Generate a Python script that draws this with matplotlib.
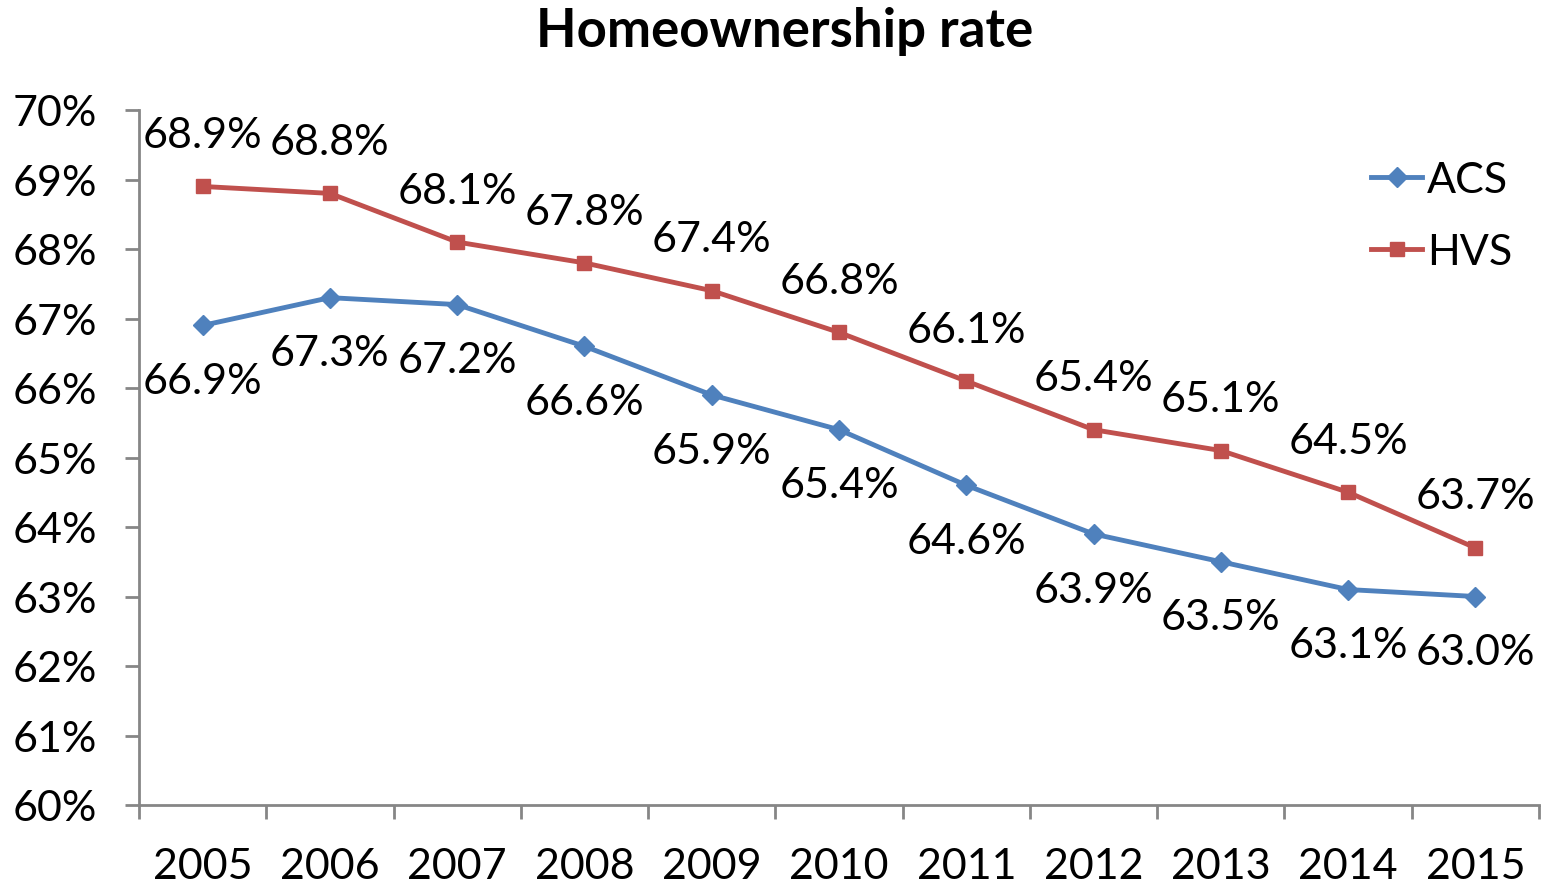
import numpy as np
import matplotlib
matplotlib.use("Agg")
import matplotlib.pyplot as plt

# data
years = ["2005", "2006", "2007", "2008", "2009", "2010",
         "2011", "2012", "2013", "2014", "2015"]
acs = [66.9, 67.3, 67.2, 66.6, 65.9, 65.4, 64.6, 63.9, 63.5, 63.1, 63.0]
hvs = [68.9, 68.8, 68.1, 67.8, 67.4, 66.8, 66.1, 65.4, 65.1, 64.5, 63.7]

plt.rcParams['font.family'] = ['Lato', 'DejaVu Sans']

blue = '#4F81BD'
red = '#C0504D'
gray = '#868686'
fs = 31

fig = plt.figure(figsize=(15.46, 8.87), dpi=100)
ax = fig.add_axes([139/1546, 81/887, 1400/1546, 695/887])

x = np.arange(len(years))
ax.plot(x, acs, color=blue, lw=3.5, marker='D', ms=10, label='ACS')
ax.plot(x, hvs, color=red, lw=3.5, marker='s', ms=10, label='HVS')

# data labels: ACS below, HVS above
for i in range(len(years)):
    ax.annotate(f"{acs[i]:.1f}%", (x[i], acs[i]), xytext=(0, -40),
                textcoords='offset points', ha='center', va='center', fontsize=fs)
    ax.annotate(f"{hvs[i]:.1f}%", (x[i], hvs[i]), xytext=(0, 37),
                textcoords='offset points', ha='center', va='center', fontsize=fs)

ax.set_xlim(-0.5, len(years) - 0.5)
ax.set_ylim(60, 70)
ax.set_yticks(np.arange(60, 71, 1))
ax.set_yticklabels([f"{v}%" for v in range(60, 71)], fontsize=fs)
ax.set_xticks(x)
ax.set_xticklabels(years, fontsize=fs)
ax.set_xticks(np.arange(-0.5, len(years)), minor=True)
ax.tick_params(axis='x', which='major', length=0, pad=30)
ax.tick_params(axis='x', which='minor', length=10, color=gray, width=2)
ax.tick_params(axis='y', length=10, color=gray, width=2, pad=20)

for s in ['top', 'right']:
    ax.spines[s].set_visible(False)
for s in ['left', 'bottom']:
    ax.spines[s].set_color(gray)
    ax.spines[s].set_linewidth(2)

fig.text(785/1546, 1 - 32/887, "Homeownership rate", ha='center', va='center',
         fontsize=38, fontweight='bold')

ax.legend(loc='upper right', bbox_to_anchor=(1512/1546, 1 - 162/887),
          bbox_transform=fig.transFigure, frameon=False, fontsize=fs,
          handlelength=1.2, handletextpad=0.1, labelspacing=0.8,
          borderaxespad=0, borderpad=0)

fig.savefig("out.png", dpi=100)
